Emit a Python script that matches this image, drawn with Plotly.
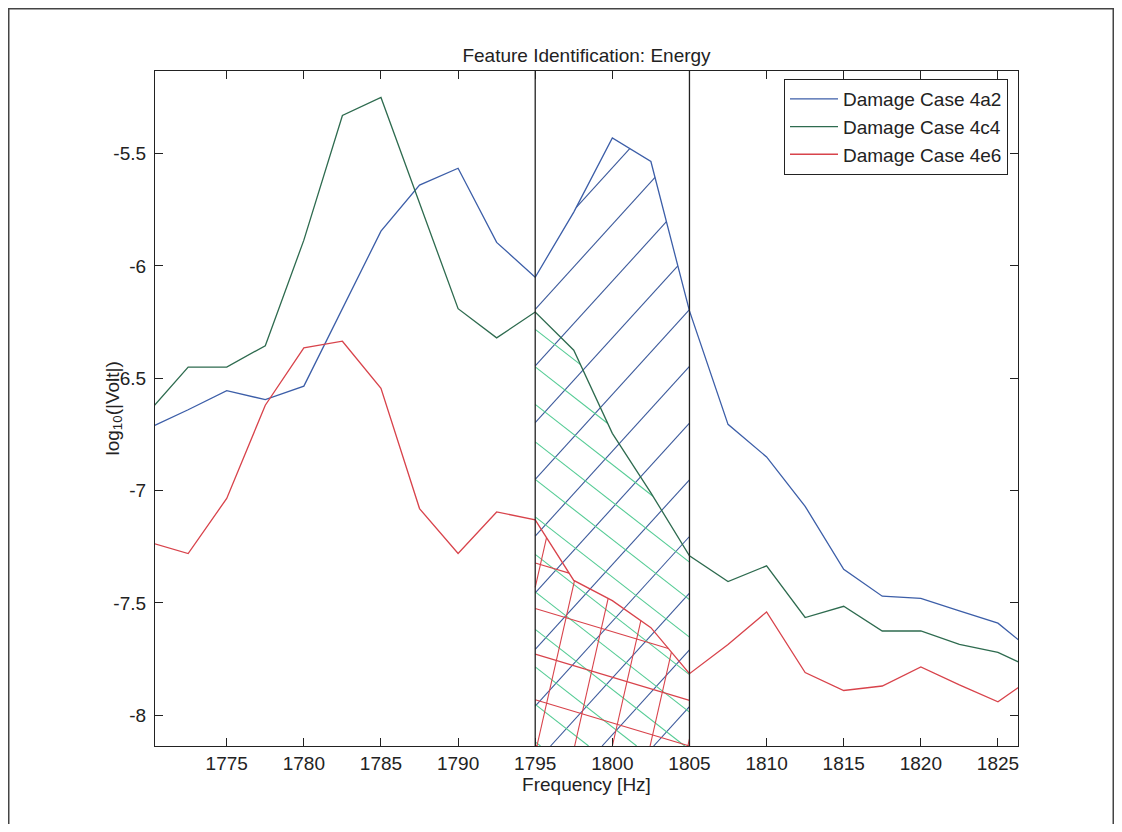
import numpy as np
import plotly.graph_objects as go

# ---------------- data ----------------
freq_hz = [1770, 1772.5, 1775, 1777.5, 1780, 1782.5, 1785, 1787.5, 1790, 1792.5,
           1795, 1797.5, 1800, 1802.5, 1805, 1807.5, 1810, 1812.5, 1815, 1817.5,
           1820, 1822.5, 1825, 1827.5]
case_4a2 = [-6.72, -6.64, -6.555, -6.595, -6.535, -6.19, -5.845, -5.64, -5.565, -5.895,
            -6.05, -5.76, -5.43, -5.535, -6.20, -6.705, -6.85, -7.07, -7.35, -7.47,
            -7.48, -7.535, -7.59, -7.73]
case_4c4 = [-6.645, -6.45, -6.45, -6.355, -5.885, -5.33, -5.25, -5.72, -6.19, -6.32,
            -6.205, -6.375, -6.745, -7.01, -7.29, -7.405, -7.335, -7.565, -7.515, -7.625,
            -7.625, -7.685, -7.72, -7.80]
case_4e6 = [-7.23, -7.28, -7.035, -6.62, -6.365, -6.335, -6.545, -7.08, -7.28, -7.095,
            -7.13, -7.40, -7.49, -7.61, -7.815, -7.685, -7.54, -7.81, -7.89, -7.87,
            -7.785, -7.865, -7.94, -7.82]
series_names = ["Damage Case 4a2", "Damage Case 4c4", "Damage Case 4e6"]
feature_band = [1795, 1805]

x_tickvals = [1775, 1780, 1785, 1790, 1795, 1800, 1805, 1810, 1815, 1820, 1825]
y_tickvals = [-8, -7.5, -7, -6.5, -6, -5.5]
y_ticktext = ["-8", "-7.5", "-7", "-6.5", "-6", "-5.5"]

# ---------------- layout / style ----------------
OFF = 8                      # default page margin of the html body
W, H = 1122 - 2 * OFF, 832 - 2 * OFF
PLOT_L, PLOT_R, PLOT_T, PLOT_B = 155 - OFF, 1018 - OFF, 71 - OFF, 746 - OFF
M = dict(l=PLOT_L, r=W - PLOT_R, t=PLOT_T, b=H - PLOT_B)
XR = [1770.35, 1826.3]
YR = [-8.137, -5.132]
PW = PLOT_R - PLOT_L
PH = PLOT_B - PLOT_T
kx = PW / (XR[1] - XR[0])
ky = PH / (YR[1] - YR[0])

FONT = "Liberation Sans, Arial, Helvetica, sans-serif"
TXT = "#222222"
line_colors = ["#3c5ea8", "#2e6b4f", "#d8434b"]
hatch_specs = [
    # blue: "/" lines
    [dict(anchor=(1795, -6.95), slope_px=-1.1, step_px=56.7, color="#3c5a9c")],
    # green: "\" lines
    [dict(anchor=(1795, -6.95), slope_px=0.78, step_px=37.5, color="#55cc95")],
    # red: cross hatch
    [dict(anchor=(1795, -7.322), slope_px=0.30, step_px=45.6, color="#d8434b"),
     dict(anchor=(1795.11, YR[0]), slope_px=-4.4, step_px=166.0, color="#d8434b")],
]


def to_px(f, v):
    return (np.asarray(f, float) - XR[0]) * kx, (YR[1] - np.asarray(v, float)) * ky


def hatch_lines(fx, vy, spec):
    X, Y = to_px(fx, vy)
    Yb = (YR[1] - YR[0]) * ky
    s = spec["slope_px"]
    ax, ay = to_px(spec["anchor"][0], spec["anchor"][1])
    step = spec["step_px"]
    c0 = float(ay) - s * float(ax)
    cpts = np.concatenate([Y - s * X, [Yb - s * X[0], Yb - s * X[-1]]])
    kmin = int(np.floor((cpts.min() - c0) / step)) - 1
    kmax = int(np.ceil((cpts.max() - c0) / step)) + 1
    xs, ys = [], []
    for k in range(kmin, kmax + 1):
        c = c0 + k * step
        ivs = []
        for i in range(len(X) - 1):
            x0, x1 = X[i], X[i + 1]
            m = (Y[i + 1] - Y[i]) / (x1 - x0)
            a = s - m
            b = c - Y[i] + m * x0
            lo, hi = x0, x1
            if abs(a) < 1e-12:
                if b < 0:
                    continue
            elif a > 0:
                lo = max(lo, -b / a)
            else:
                hi = min(hi, -b / a)
            if s > 0:
                hi = min(hi, (Yb - c) / s)
            elif s < 0:
                lo = max(lo, (Yb - c) / s)
            elif c > Yb:
                continue
            if hi > lo + 1e-9:
                if ivs and abs(ivs[-1][1] - lo) < 1e-6:
                    ivs[-1][1] = hi
                else:
                    ivs.append([lo, hi])
        for lo, hi in ivs:
            for xp in (lo, hi):
                xs.append(XR[0] + xp / kx)
                ys.append(YR[1] - (c + s * xp) / ky)
            xs.append(None)
            ys.append(None)
    return xs, ys


fig = go.Figure()

all_series = [case_4a2, case_4c4, case_4e6]
band_idx = [i for i, f in enumerate(freq_hz) if feature_band[0] <= f <= feature_band[1]]

# hatching of the feature band under each curve
for vals, specs in zip(all_series, hatch_specs):
    bf = [freq_hz[i] for i in band_idx]
    bv = [vals[i] for i in band_idx]
    for spec in specs:
        hx, hy = hatch_lines(bf, bv, spec)
        fig.add_trace(go.Scatter(x=hx, y=hy, mode="lines",
                                 line=dict(color=spec["color"], width=1.1),
                                 showlegend=False, hoverinfo="skip"))

# the three curves
for name, vals, col in zip(series_names, all_series, line_colors):
    fig.add_trace(go.Scatter(x=freq_hz, y=vals, mode="lines", name=name,
                             line=dict(color=col, width=1.3)))

# band borders
for xb in feature_band:
    fig.add_shape(type="line", x0=xb, x1=xb, xref="x", y0=0, y1=1, yref="y domain",
                  line=dict(color="#222222", width=1.3), layer="above")

# outer frame of the figure
fig.add_shape(type="rect", xref="paper", yref="paper",
              x0=(0.75 - PLOT_L) / PW, x1=(W - 0.75 - PLOT_L) / PW,
              y0=(PLOT_B - (H + 40)) / PH, y1=(PLOT_B - 0.75) / PH,
              line=dict(color="#444444", width=1.5), fillcolor="rgba(0,0,0,0)",
              layer="above")

axis_common = dict(showline=True, linecolor="#222222", linewidth=1.2, mirror="ticks",
                   ticks="inside", ticklen=8, tickwidth=1, tickcolor="#222222",
                   showgrid=False, zeroline=False,
                   tickfont=dict(family=FONT, size=19, color=TXT))

fig.update_layout(
    width=W, height=H, margin=M,
    paper_bgcolor="white", plot_bgcolor="white",
    font=dict(family=FONT, size=19, color=TXT),
    title=dict(text="Feature Identification: Energy", x=0.5, xref="paper",
               xanchor="center", y=1 - (55 - OFF) / H, yref="container",
               yanchor="middle", font=dict(family=FONT, size=19, color=TXT)),
    xaxis=dict(range=XR, tickvals=x_tickvals, **axis_common,
               title=dict(text="Frequency [Hz]", standoff=0,
                          font=dict(family=FONT, size=19, color=TXT))),
    yaxis=dict(range=YR, tickvals=y_tickvals, ticktext=y_ticktext,
               ticklabelstandoff=4, **axis_common),
    legend=dict(x=(1008 - 155) / PW, xanchor="right", y=1 - (79 - 71) / PH,
                yanchor="top", bgcolor="white", bordercolor="#222222", borderwidth=1,
                font=dict(family=FONT, size=19, color=TXT),
                itemwidth=48, tracegroupgap=0),
    showlegend=True,
    annotations=[dict(text="log<sub>10</sub>(|Volt|)", textangle=-90, xref="paper",
                      yref="paper", x=(113 - 155) / PW, y=0.5, xanchor="center",
                      yanchor="middle", showarrow=False,
                      font=dict(family=FONT, size=19, color=TXT))],
)

fig.write_html("out.html")
